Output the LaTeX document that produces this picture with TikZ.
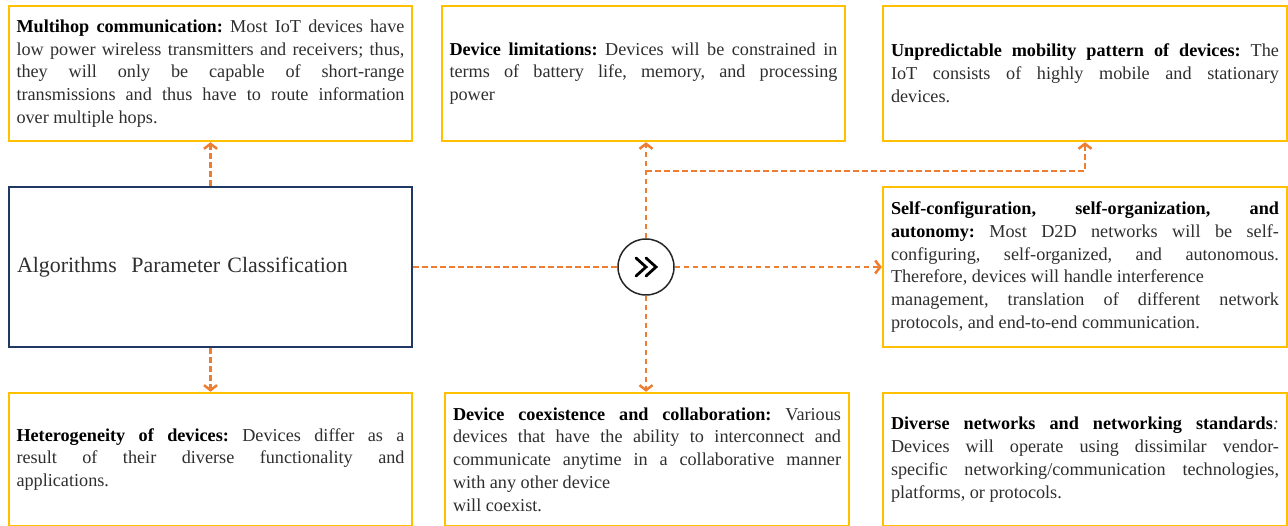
\documentclass[tikz,border=0pt]{standalone}
\usepackage{fontspec}
\setmainfont{Liberation Serif}
\usetikzlibrary{arrows.meta}
\definecolor{gold}{HTML}{FFC000}
\definecolor{navy}{HTML}{1F3864}
\definecolor{orng}{HTML}{ED7D31}
\definecolor{txt}{HTML}{2E2E2E}
\hbadness=10000 \hfuzz=20pt
\frenchspacing
\setlength{\parindent}{0pt}
\newcommand\bxfont{\fontsize{18.2pt}{22.8pt}\selectfont}
\newcommand\hd[1]{\textcolor{black}{\textbf{#1}}}
\newcommand\jl[1]{\hbox to 388pt{\spaceskip=0pt\xspaceskip=0pt #1}}
\newcommand\rl[1]{\hbox to 388pt{\spaceskip=0pt\xspaceskip=0pt #1\hfil}}
\begin{document}
\begin{tikzpicture}[x=1pt,y=-1pt,
  ybox/.style={draw=gold, line width=2.5pt, minimum width=403pt, text width=388pt,
    align=justify, inner sep=0pt, text=txt, font=\bxfont},
  mbox/.style={draw=navy, line width=2.5pt, minimum width=403pt, minimum height=160pt,
    text width=387pt, inner sep=0pt, align=left, text=txt, font=\fontsize{21.9pt}{26pt}\selectfont},
  conn/.style={draw=orng, line width=2.5pt, dash pattern=on 5.5pt off 3.5pt,
    -{Straight Barb[length=5pt,width=13pt]}},
  plain/.style={draw=orng, line width=2.5pt, dash pattern=on 5.5pt off 3.5pt},
  hubc/.style={circle, draw=black!85, line width=1.5pt, fill=white, minimum size=56pt, inner sep=0pt}
]
\useasboundingbox (0,0) rectangle (1288,526);
\begin{scope}
\clip (0,0) rectangle (1288,526);

\node[ybox, minimum height=135pt] (b1) at (210.5,73.5) {%
\jl{\hd{Multihop communication:} Most IoT devices have}
\jl{low power wireless transmitters and receivers; thus,}
\jl{they will only be capable of short-range}
\jl{transmissions and thus have to route information}
\rl{over multiple hops.}};

\node[ybox, minimum height=135pt] (b2) at (643.5,73.5) {%
\jl{\hd{Device limitations:} Devices will be constrained in}
\jl{terms of battery life, memory, and processing}
\rl{power}};

\node[ybox, minimum height=135pt, minimum width=404pt] (b3) at (1085,73.5) {%
\jl{\hd{Unpredictable mobility pattern of devices:} The}
\jl{IoT consists of highly mobile and stationary}
\rl{devices.}};

\node[mbox] (main) at (210.5,267) {Algorithms\ \ Parameter Classification};

\node[ybox, minimum height=160pt, minimum width=404pt] (sc) at (1085,267) {%
\jl{\hd{Self-configuration, self-organization, and}}
\jl{\hd{autonomy:} Most D2D networks will be self-}
\jl{configuring, self-organized, and autonomous.}
\rl{Therefore, devices will handle interference}
\jl{management, translation of different network}
\rl{protocols, and end-to-end communication.}};

\node[ybox, minimum height=133pt] (h) at (210.5,459.5) {%
\jl{\hd{Heterogeneity of devices:} Devices differ as a}
\jl{result of their diverse functionality and}
\rl{applications.}};

\node[ybox, minimum height=133pt, minimum width=404pt] (co) at (647,459.5) {%
\jl{\hd{Device coexistence and collaboration:} Various}
\jl{devices that have the ability to interconnect and}
\jl{communicate anytime in a collaborative manner}
\rl{with any other device}
\rl{will coexist.}};

\node[ybox, minimum height=133pt, minimum width=404pt] (dv) at (1085,459.5) {%
\jl{\hd{Diverse networks and networking standards}\textit{:}}
\jl{Devices will operate using dissimilar vendor-}
\jl{specific networking/communication technologies,}
\rl{platforms, or protocols.}};

\node[hubc] (hub) at (646,267) {};
\coordinate (j) at (646,171);

\draw[conn] (main.north) -- (b1.south);
\draw[conn] (main.south) -- (h.north);
\draw[plain] (main.east) -- (hub.west);
\draw[conn] (hub.east) -- (sc.west);
\draw[conn] (hub.north) -- (hub.north |- b2.south);
\draw[conn] (j) -| (b3.south);
\draw[conn] (hub.south) -- (hub.south |- co.north);

\draw[black, line width=2.8pt, line cap=round, line join=miter]
  ([shift={(-10,-9)}]hub.center) -- ([shift={(0,0)}]hub.center) -- ([shift={(-10,9)}]hub.center);
\draw[black, line width=2.8pt, line cap=round, line join=miter]
  ([shift={(0,-9)}]hub.center) -- ([shift={(10,0)}]hub.center) -- ([shift={(0,9)}]hub.center);
\end{scope}
\end{tikzpicture}
\end{document}
